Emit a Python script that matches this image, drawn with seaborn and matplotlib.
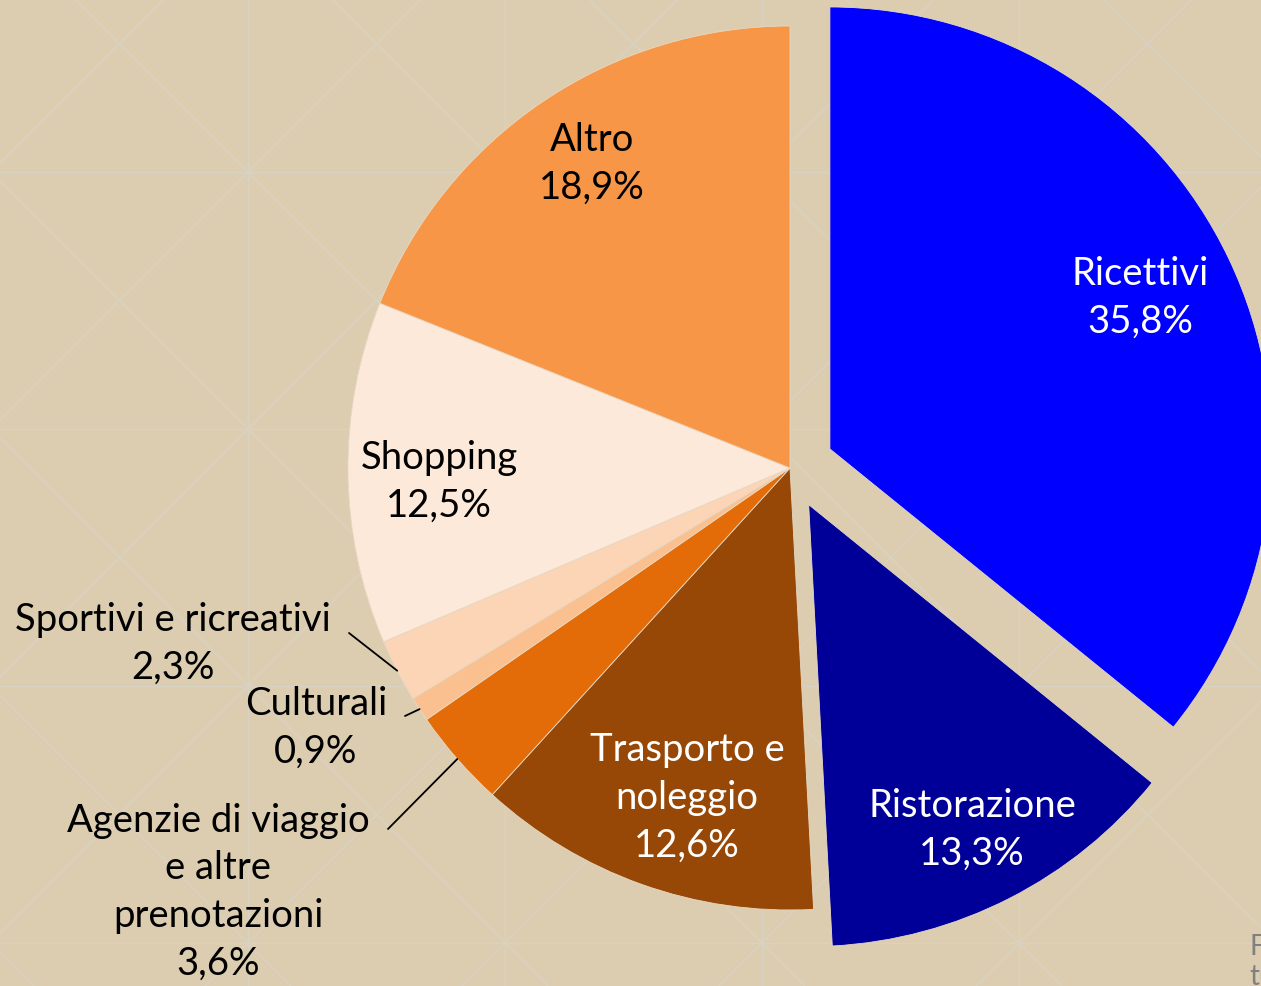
import numpy as np
import matplotlib
matplotlib.use("Agg")
import matplotlib.pyplot as plt
import seaborn as sns

# spesa per categoria (quota %)
categories = ["Ricettivi", "Ristorazione", "Trasporto e\nnoleggio",
              "Agenzie di viaggio\ne altre\nprenotazioni", "Culturali",
              "Sportivi e ricreativi", "Shopping", "Altro"]
shares = [35.8, 13.3, 12.6, 3.6, 0.9, 2.3, 12.5, 18.9]
slice_colors = ["#0000FF", "#000099", "#974807", "#E36C09",
                "#FAC090", "#FBD5B5", "#FDE9D9", "#F79646"]
explode = [0.1, 0.093, 0, 0, 0, 0, 0, 0]

BG = "#DDCDB0"
W, H = 1261, 986
CX, CY, R = 790, 468, 442  # pie centre / radius in pixels


def to_data(px, py):
    return (px - CX) / R, (CY - py) / R


sns.set_theme(style="white")
plt.rcParams["font.family"] = ["Lato", "DejaVu Sans"]

fig = plt.figure(figsize=(W / 100, H / 100), dpi=100)
fig.patch.set_facecolor(BG)

# background with the faint diagonal grid pattern
bg = fig.add_axes([0, 0, 1, 1])
bg.set_xlim(0, W)
bg.set_ylim(H, 0)
bg.axis("off")
line_kw = dict(color="#D8D2C4", lw=1.0, zorder=0)
step = 257
for k in range(-6, 8):
    bg.axvline(248 + k * step, **line_kw)
    bg.axhline(172 + k * step, **line_kw)
    bg.axline((76 + k * step, 0), slope=1, **line_kw)
    bg.axline((163 + k * step, 0), slope=-1, **line_kw)

ax = fig.add_axes([0, 0, 1, 1])
ax.patch.set_alpha(0)
wedges, _ = ax.pie(
    shares,
    colors=slice_colors,
    explode=explode,
    startangle=90,
    counterclock=False,
    radius=1,
    wedgeprops=dict(edgecolor="#E6D8C4", linewidth=0.6),
)
ax.set_aspect("auto")
x0, y1 = to_data(0, 0)
x1, y0 = to_data(W, H)
ax.set_xlim(x0, x1)
ax.set_ylim(y0, y1)
ax.axis("off")

pct = [f"{v:.1f}%".replace(".", ",") for v in shares]

# label centres in pixels and text colour
label_pos = [(1140, 298, "white"), (972, 830, "white"), (687, 798, "white"),
             (218, 892, "black"), (316, 728, "black"), (173, 644, "black"),
             (439, 482, "black"), (592, 164, "black")]
for name, p, (px, py, c) in zip(categories, pct, label_pos):
    tx, ty = to_data(px, py)
    ax.text(tx, ty, f"{name}\n{p}", ha="center", va="center",
            fontsize=27.5, color=c, linespacing=1.4)

# leader lines for the small slices
leader_start = {3: (388, 829), 4: (405, 716), 5: (349, 633)}
for i, (px, py) in leader_start.items():
    w = wedges[i]
    mid = np.deg2rad((w.theta1 + w.theta2) / 2)
    edge = (np.cos(mid), np.sin(mid))
    ax.annotate("", xy=edge, xytext=to_data(px, py),
                arrowprops=dict(arrowstyle="-", color="black", lw=1.3,
                                shrinkA=0, shrinkB=0))

# cut-off source note at the bottom right
fig.text(1249 / W, 1 - 947 / H, "F", color="#808080", fontsize=20,
         va="center", ha="left")
fig.text(1249 / W, 1 - 977 / H, "tu", color="#808080", fontsize=20,
         va="center", ha="left")

fig.savefig("out.png", dpi=100, facecolor=BG)
